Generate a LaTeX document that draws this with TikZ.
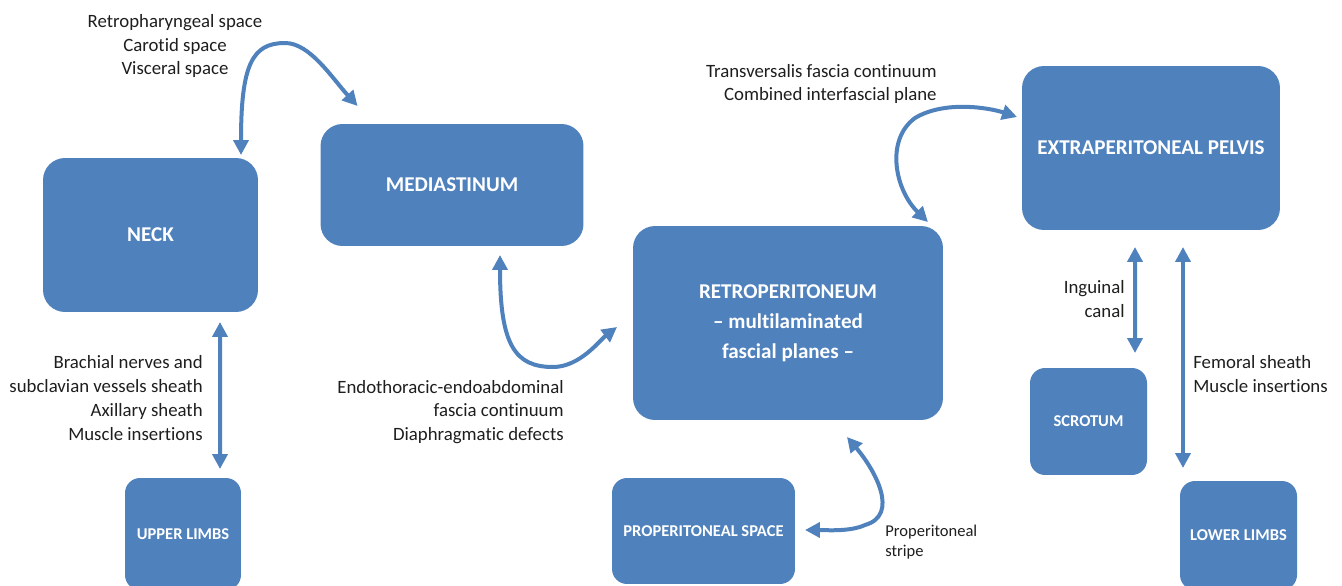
\documentclass[tikz,border=0pt]{standalone}
\usepackage{fontspec}
\setmainfont{Carlito}[Ligatures={TeX,NoCommon}]
\usetikzlibrary{arrows.meta,calc}
\definecolor{boxblue}{RGB}{79,129,189}
\definecolor{textgray}{RGB}{30,30,30}

\begin{document}
\begin{tikzpicture}
        % 坐标单位取 1 像素, y 轴向下
        [x=0.02cm, y=-0.02cm,
        BigBox/.style={rectangle, rounded corners=0.44cm, fill=boxblue, inner sep=0pt, outer sep=0pt, text=white, font=\fontsize{12}{17}\selectfont\bfseries, align=center},
        SmallBox/.style={rectangle, rounded corners=0.3cm, fill=boxblue, inner sep=0pt, outer sep=0pt, text=white, font=\fontsize{9.4}{11}\selectfont\bfseries, align=center},
        NoteText/.style={inner sep=0pt, text=textgray, font=\fontsize{10.7}{13.6}\selectfont},
        TwoWay/.style={draw=boxblue, line width=0.08cm, {Triangle[length=0.3cm,width=0.3cm]}-{Triangle[length=0.3cm,width=0.3cm]}}]

        % 画布大小
        \useasboundingbox (0,0) rectangle (1342,585);
        \clip (0,0) rectangle (1342,585);

        % 大方框
        \node[BigBox, minimum width=4.30cm, minimum height=3.08cm] (neck) at (150.5,235) {NECK};
        \node[BigBox, minimum width=5.26cm, minimum height=2.44cm] (medi) at (452,185) {MEDIASTINUM};
        \node[BigBox, minimum width=6.20cm, minimum height=3.88cm] (retro) at (788,323) {RETROPERITONEUM\\\textendash{} multilaminated\\fascial planes \textendash};
        \node[BigBox, minimum width=5.16cm, minimum height=3.28cm] (pelvis) at (1151,148) {EXTRAPERITONEAL PELVIS};

        % 小方框
        \foreach \name/\x/\y/\w/\h/\txt in {upper/183/534/2.32/2.24/UPPER LIMBS, prop/703.5/531/3.66/2.12/PROPERITONEAL SPACE, scrotum/1088.5/421.5/2.34/2.14/SCROTUM, lower/1238.5/535.5/2.34/2.18/LOWER LIMBS}
        \node[SmallBox, minimum width=\w cm, minimum height=\h cm] (\name) at (\x,\y) {\txt};

        % 颈部 -- 纵隔
        \draw[TwoWay] ($(neck.north)+(90.5,-3)$) .. controls (241,65) and (252,43) .. (285,43) .. controls (310,43) and (332,78) .. ($(medi.north west)+(37,-18)$);
        % 颈部 -- 上肢
        \draw[TwoWay] ($(neck.south)+(69.5,10)$) -- ($(upper.north)+(37,-9)$);
        % 纵隔 -- 腹膜后
        \draw[TwoWay] ($(medi.south)+(48,9)$) .. controls (500,345) and (515,367) .. (553,367) .. controls (580,367) and (600,340) .. ($(retro.west)+(-16,4)$);
        % 腹膜后 -- 盆腔
        \draw[TwoWay] ($(retro.north east)+(-15,-4)$) .. controls (895,190) and (885,140) .. (915,118) .. controls (945,100) and (990,108) .. ($(pelvis.west)+(-5,-31)$);
        % 腹膜后 -- 腹膜前间隙
        \draw[TwoWay] ($(retro.south)+(59,17)$) .. controls (875,470) and (900,515) .. (865,525) .. controls (850,532) and (825,530) .. ($(prop.east)+(10,-1)$);
        % 盆腔 -- 阴囊, 盆腔 -- 下肢
        \draw[TwoWay] ($(pelvis.south)+(-16,17)$) -- ($(scrotum.north)+(46.5,-15)$);
        \draw[TwoWay] ($(pelvis.south)+(32,17)$) -- ($(lower.north)+(-55.5,-13)$);

        % 说明文字
        \node[NoteText, align=center] (t_neck) at (175,46) {Retropharyngeal space\\Carotid space\\Visceral space};
        \node[NoteText, align=right, anchor=east] (t_arm) at (203,398) {Brachial nerves and\\subclavian vessels sheath\\Axillary sheath\\Muscle insertions};
        \node[NoteText, align=right, anchor=east] (t_thorax) at (564,412) {Endothoracic-endoabdominal\\fascia continuum\\Diaphragmatic defects};
        \node[NoteText, align=right, anchor=east] (t_pelvis) at (937,84) {Transversalis fascia continuum\\Combined interfascial plane};
        \node[NoteText, align=right, anchor=east] (t_ingu) at (1125,299) {Inguinal\\canal};
        \node[NoteText, align=left, anchor=west] (t_femo) at (1193,374) {Femoral sheath\\Muscle insertions};
        \node[NoteText, font=\fontsize{9.4}{11.3}\selectfont, align=left, anchor=west] (t_prop) at (885,542) {Properitoneal\\stripe};
\end{tikzpicture}
\end{document}
